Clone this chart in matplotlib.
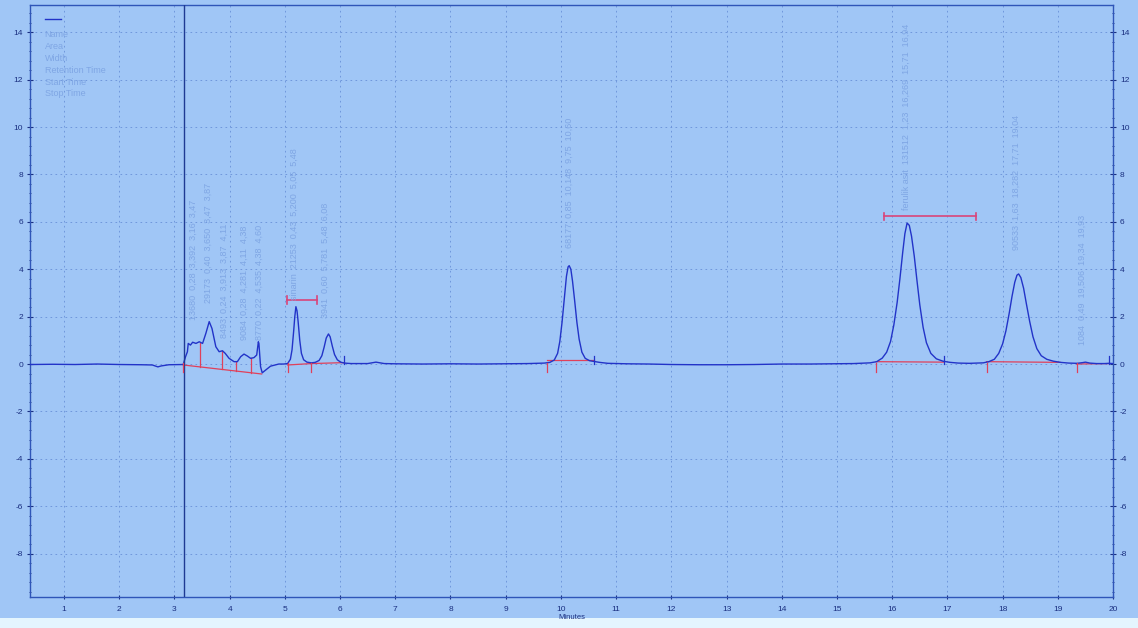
import matplotlib.pyplot as plt
from matplotlib.ticker import MultipleLocator, AutoMinorLocator
from matplotlib.patches import Rectangle

# chromatogram trace (minutes, signal)
time_min = [0.384, 0.8, 1.2, 1.6, 2.0, 2.4, 2.6, 2.7, 2.76, 2.9, 3.1, 3.16,
             3.2, 3.235, 3.25, 3.29, 3.33, 3.39, 3.45, 3.51, 3.57, 3.63, 3.68,
             3.75, 3.81, 3.87, 3.92, 3.99, 4.08, 4.14, 4.2, 4.26, 4.32, 4.38,
             4.44, 4.49, 4.52, 4.53, 4.56, 4.59, 4.65, 4.74, 4.89, 4.98,
             5.05, 5.1, 5.13, 5.16, 5.18, 5.2, 5.22, 5.24, 5.27, 5.3, 5.34, 5.4, 5.48,
             5.55, 5.62, 5.67, 5.71, 5.75, 5.79, 5.82, 5.86, 5.9, 5.95, 6.01, 6.08, 6.2,
             6.5, 6.65, 6.8, 7.0, 7.5, 8.0, 8.5, 9.0, 9.4,
             9.7, 9.8, 9.88, 9.94, 9.98, 10.02, 10.06, 10.1, 10.13, 10.15, 10.18,
             10.21, 10.25, 10.29, 10.33, 10.38, 10.44, 10.52, 10.6, 10.7, 10.85,
             11.2, 11.6, 12.0, 12.5, 13.0, 13.5, 14.0, 14.5, 15.0, 15.3,
             15.6, 15.72, 15.82, 15.9, 15.97, 16.03, 16.09, 16.14, 16.19, 16.23,
             16.27, 16.31, 16.35, 16.4, 16.45, 16.5, 16.56, 16.62, 16.7, 16.8,
             16.92, 17.05, 17.2, 17.4,
             17.65, 17.75, 17.85, 17.93, 18.0, 18.06, 18.12, 18.17, 18.22, 18.26,
             18.29, 18.33, 18.38, 18.43, 18.49, 18.55, 18.62, 18.7, 18.8, 18.92,
             19.05, 19.2, 19.35, 19.45, 19.5, 19.58, 19.7, 19.85, 19.93, 20.0]
signal = [-0.02, -0.01, -0.02, 0.0, -0.02, -0.03, -0.04, -0.12, -0.08, -0.03, -0.02, -0.02,
          0.3, 0.52, 0.87, 0.8, 0.92, 0.87, 0.94, 0.87, 1.3, 1.79, 1.5,
          0.73, 0.52, 0.56, 0.45, 0.24, 0.1, 0.1, 0.31, 0.42, 0.34, 0.24,
          0.27, 0.38, 0.94, 0.87, -0.11, -0.37, -0.26, -0.09, 0.0, 0.0,
          0.02, 0.2, 0.6, 1.4, 2.0, 2.42, 2.25, 1.8, 1.0, 0.45, 0.18, 0.08, 0.05,
          0.07, 0.15, 0.35, 0.7, 1.1, 1.27, 1.15, 0.75, 0.4, 0.18, 0.08, 0.04, 0.02,
          0.02, 0.08, 0.02, 0.01, 0.0, 0.01, 0.0, 0.01, 0.02,
          0.04, 0.07, 0.17, 0.45, 0.95, 1.75, 2.75, 3.7, 4.1, 4.15, 4.0,
          3.5, 2.65, 1.75, 1.05, 0.5, 0.24, 0.14, 0.11, 0.07, 0.03,
          0.01, 0.0, -0.02, -0.03, -0.03, -0.02, 0.0, 0.0, 0.01, 0.02,
          0.05, 0.1, 0.25, 0.5, 0.95, 1.65, 2.6, 3.6, 4.7, 5.5,
          5.95, 5.85, 5.4, 4.55, 3.5, 2.5, 1.55, 0.9, 0.45, 0.22,
          0.12, 0.07, 0.04, 0.03,
          0.05, 0.1, 0.2, 0.45, 0.85, 1.4, 2.15, 2.85, 3.45, 3.75,
          3.8, 3.65, 3.2, 2.55, 1.8, 1.15, 0.65, 0.35, 0.2, 0.12,
          0.07, 0.04, 0.03, 0.06, 0.08, 0.04, 0.02, 0.02, 0.03, 0.02]

# integration baselines (start, end) and values
base_x = [(3.16, 4.58), (5.05, 5.48), (5.48, 6.08), (9.75, 10.6),
          (15.71, 16.94), (17.71, 19.04), (19.34, 19.93)]
base_y = [(-0.04, -0.42), (-0.04, 0.02), (0.02, 0.06), (0.17, 0.17),
          (0.1, 0.08), (0.1, 0.07), (0.0, 0.02)]
drop_times = [3.47, 3.87, 4.11, 4.38]
drop_base = [-0.13, -0.23, -0.29, -0.36]
drop_top = [0.9, 0.56, 0.1, 0.24]
red_ticks = [3.16, 5.05, 5.48, 9.75, 15.71, 17.71, 19.34]
blue_ticks = [6.08, 10.6, 16.94, 19.93]

# peak annotations
label_rt = [3.34, 3.62, 3.90, 4.27, 4.54, 5.17, 5.74, 10.15, 16.25, 18.25, 19.45]
label_y = [1.86, 2.57, 1.1, 1.0, 1.0, 2.7, 1.94, 4.9, 6.5, 4.8, 0.8]
label_text = ['13680  0,28  3,392  3,16  3,47',
              '29173  0,40  3,650  3,47  3,87',
              '8493  0,24  3,913  3,87  4,11',
              '9084  0,28  4,281  4,11  4,38',
              '8770  0,22  4,535  4,38  4,60',
              'sinarin  21253  0,43  5,200  5,05  5,48',
              '3941  0,60  5,781  5,48  6,08',
              '68177  0,85  10,148  9,75  10,60',
              'ferulik asit  131512  1,23  16,269  15,71  16,94',
              '90533  1,63  18,282  17,71  19,04',
              '1084  0,49  19,506  19,34  19,93']

# identification windows
win_start = [5.04, 15.86]
win_end = [5.58, 17.52]
win_y = [2.7, 6.24]

legend_lines = ['Name', 'Area', 'Width', 'Retention Time', 'Start Time', 'Stop Time']

bg = '#a0c6f6'
trace_col = '#2233c8'
red = '#e0405a'
txt_col = '#7fa6e4'
tick_col = '#1a2f80'

plt.rcParams['font.family'] = ['Liberation Sans', 'DejaVu Sans']
plt.rcParams['axes.unicode_minus'] = False

fig = plt.figure(figsize=(11.38, 6.28), dpi=100, facecolor=bg)
fig.patches.append(Rectangle((0, 0), 1, 0.016, transform=fig.transFigure,
                             facecolor='#e4f5fe', edgecolor='none', zorder=-1))
ax = fig.add_axes([0.02636, 0.04936, 0.9517, 0.9427])
ax.set_facecolor(bg)

ax.plot(time_min, signal, color=trace_col, lw=1.0, zorder=4)
ax.axvline(3.17, color='#1f3a93', lw=1.0, zorder=5)

for (x0, x1), (y0, y1) in zip(base_x, base_y):
    ax.plot([x0, x1], [y0, y1], color=red, lw=0.9, zorder=3)
for t, b, top in zip(drop_times, drop_base, drop_top):
    ax.plot([t, t], [b, top], color=red, lw=0.9, zorder=3)
for t in red_ticks:
    ax.plot([t, t], [-0.35, 0.05], color=red, lw=0.9, zorder=5)
for t in blue_ticks:
    ax.plot([t, t], [0.0, 0.35], color=trace_col, lw=0.9, zorder=5)

for x0, x1, y in zip(win_start, win_end, win_y):
    ax.plot([x0, x1], [y, y], color='#d9457a', lw=1.2, zorder=5)
    ax.plot([x0, x0], [y - 0.15, y + 0.15], color='#d9457a', lw=1.2, zorder=5)
    ax.plot([x1, x1], [y - 0.15, y + 0.15], color='#d9457a', lw=1.2, zorder=5)

for x, y, s in zip(label_rt, label_y, label_text):
    ax.text(x, y, s, rotation=90, ha='center', va='bottom', fontsize=6.5,
            color=txt_col, zorder=6)

# legend block top-left
ax.plot([0.65, 0.95], [14.55, 14.55], color=trace_col, lw=1.0)
for i, s in enumerate(legend_lines):
    ax.text(0.65, 13.9 - i * 0.5, s, fontsize=6.5, color=txt_col, va='center')

ax.set_xlim(0.384, 20)
ax.set_ylim(-9.83, 15.15)
ax.yaxis.set_major_locator(MultipleLocator(2))
ax.yaxis.set_minor_locator(AutoMinorLocator(5))
ax.set_xticks(range(1, 21))
ax.grid(True, which='major', color='#6890d8', lw=0.6, linestyle=(0, (2, 4)))
ax.tick_params(axis='both', which='both', colors=tick_col, labelsize=6,
               direction='inout', right=True, labelright=True)
ax.tick_params(axis='y', which='major', length=4, pad=3)
ax.tick_params(axis='y', which='minor', length=2)
ax.tick_params(axis='x', which='major', length=3, pad=5)
for sp in ax.spines.values():
    sp.set_color('#2f55b8')
    sp.set_linewidth(1.0)
ax.set_xlabel('Minutes', fontsize=5.5, color=tick_col, labelpad=1)

fig.savefig('out.png', dpi=100, facecolor=bg)
